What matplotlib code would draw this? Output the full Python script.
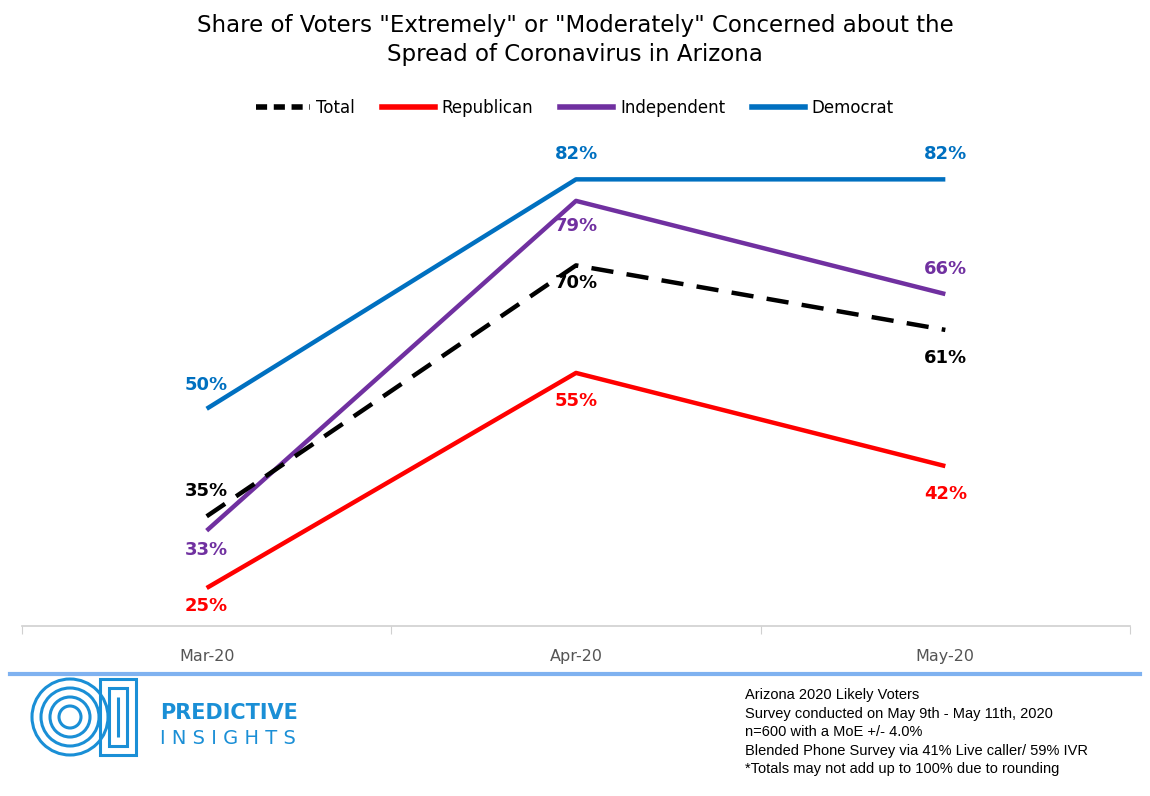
import matplotlib.pyplot as plt
from matplotlib.patches import Ellipse, Rectangle
from matplotlib.lines import Line2D

months = ["Mar-20", "Apr-20", "May-20"]
total = [35, 70, 61]
republican = [25, 55, 42]
independent = [33, 79, 66]
democrat = [50, 82, 82]

C_TOT, C_REP, C_IND, C_DEM = "black", "#ff0000", "#7030a0", "#0070c0"

W, H = 1150, 796
fig = plt.figure(figsize=(W / 100, H / 100), dpi=100)
ax = fig.add_axes([22 / W, 1 - 626 / H, 1108 / W, 504 / H])
x = range(len(months))

LW = 3.2
ax.plot(x, democrat, color=C_DEM, lw=LW, solid_capstyle="butt")
ax.plot(x, independent, color=C_IND, lw=LW, solid_capstyle="butt")
ax.plot(x, republican, color=C_REP, lw=LW, solid_capstyle="butt")
ax.plot(x, total, color=C_TOT, lw=LW, dashes=(5, 3))

ax.set_xlim(-0.5, 2.5)
ax.set_ylim(19.7, 90)
ax.set_yticks([])
for s in ["top", "right", "left"]:
    ax.spines[s].set_visible(False)
ax.spines["bottom"].set_color("#d0d0d0")
ax.spines["bottom"].set_linewidth(1.2)
ax.set_xticks([-0.5, 0.5, 1.5, 2.5])
ax.set_xticklabels([])
ax.tick_params(axis="x", length=6, color="#d0d0d0")
for i, m in enumerate(months):
    ax.text(i, -0.045, m, transform=ax.get_xaxis_transform(), ha="center", va="top",
            fontsize=11.5, color="#555555")

# value labels: offsets in points
offs = {
    "dem": (democrat, C_DEM, [17, 18, 18]),
    "ind": (independent, C_IND, [-14, -18, 18]),
    "tot": (total, C_TOT, [18, -13, -20]),
    "rep": (republican, C_REP, [-13, -20, -20]),
}
for vals, col, dy in offs.values():
    for i, v in enumerate(vals):
        ax.annotate(f"{v}%", (i, v), xytext=(0, dy[i]), textcoords="offset points",
                    ha="center", va="center", fontsize=13, fontweight="bold", color=col)

fig.text(0.5, 1 - 40 / H, 'Share of Voters "Extremely" or "Moderately" Concerned about the\nSpread of Coronavirus in Arizona',
         ha="center", va="center", fontsize=16.5, linespacing=1.3)

handles = [
    Line2D([], [], color=C_TOT, lw=4, dashes=(2, 1.2)),
    Line2D([], [], color=C_REP, lw=4),
    Line2D([], [], color=C_IND, lw=4),
    Line2D([], [], color=C_DEM, lw=4),
]
fig.legend(handles, ["Total", "Republican", "Independent", "Democrat"],
           loc="center", bbox_to_anchor=(0.5, 1 - 108 / H), ncol=4, frameon=False,
           fontsize=12, handlelength=3.2, columnspacing=1.6, handletextpad=0.4)

# footer separator
fig.add_artist(Line2D([10 / W, 1140 / W], [1 - 674 / H] * 2, color="#7fb2f0", lw=3))

# logo
logo = "#1a8fd6"
cx, cy = 70, 717
for r in (38, 29, 20, 11):
    fig.add_artist(Ellipse((cx / W, 1 - cy / H), 2 * r / W, 2 * r / H,
                           transform=fig.transFigure, fill=False, ec=logo, lw=2.2))
for off in (0, 9, 18):
    fig.add_artist(Rectangle(((100 + off) / W, 1 - (755 - off) / H), (36 - 2 * off) / W,
                             (76 - 2 * off) / H, fill=False, ec=logo, lw=2.2))
fig.text(160 / W, 1 - 713 / H, "PREDICTIVE", fontsize=15, fontweight="bold",
         color=logo, va="center")
fig.text(160 / W, 1 - 738 / H, "I N S I G H T S", fontsize=14, color=logo, va="center")

footer = ("Arizona 2020 Likely Voters\nSurvey conducted on May 9th - May 11th, 2020\n"
          "n=600 with a MoE +/- 4.0%\nBlended Phone Survey via 41% Live caller/ 59% IVR\n"
          "*Totals may not add up to 100% due to rounding")
fig.text(745 / W, 1 - 688 / H, footer, fontsize=10.5, va="top", ha="left",
         linespacing=1.42, family="Liberation Sans")

fig.savefig("out.png", dpi=100)
